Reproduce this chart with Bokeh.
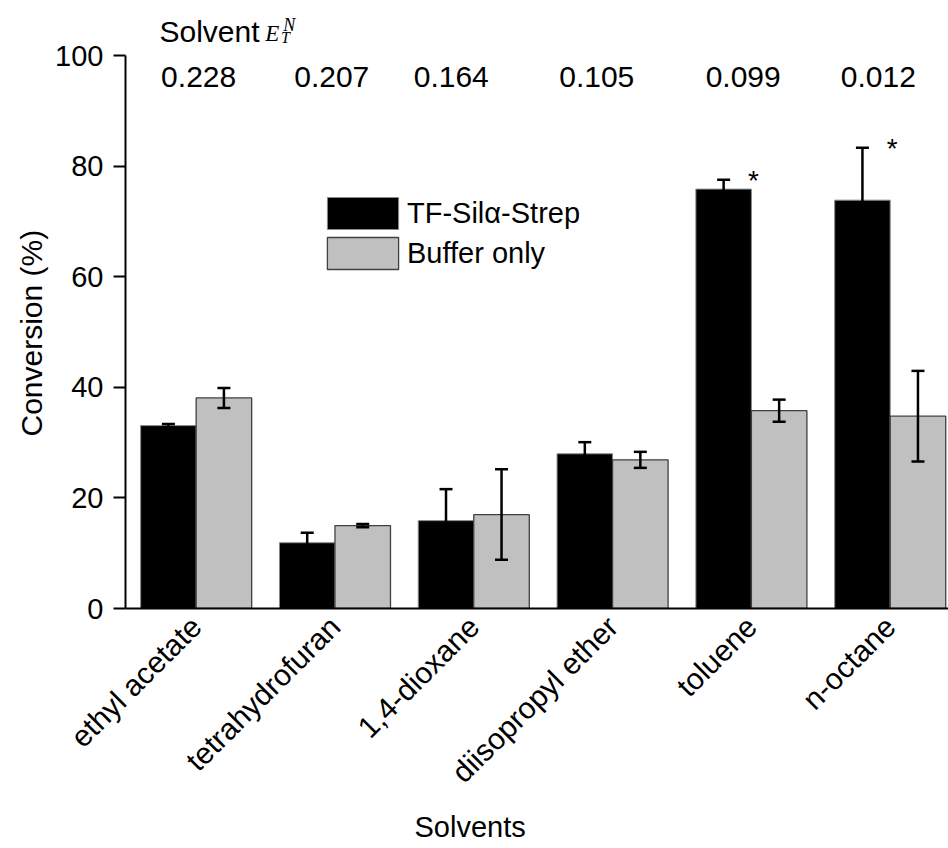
import numpy as np
from bokeh.plotting import figure
from bokeh.models import (ColumnDataSource, Range1d, Whisker, TeeHead, LabelSet,
                          FixedTicker, Title)
from bokeh.core.properties import value
from bokeh.embed import file_html
from bokeh.resources import INLINE

# ---------------- data ----------------
solvents = ["ethyl acetate", "tetrahydrofuran", "1,4-dioxane",
            "diisopropyl ether", "toluene", "n-octane"]
et_n = ["0.228", "0.207", "0.164", "0.105", "0.099", "0.012"]
tf_conv = [33.1, 11.9, 15.9, 28.0, 75.9, 73.9]
tf_err = [0.3, 1.8, 5.7, 2.1, 1.7, 9.5]
buf_conv = [38.1, 15.0, 17.0, 26.9, 35.8, 34.8]
buf_err = [1.8, 0.3, 8.2, 1.45, 2.0, 8.2]
significant = [False, False, False, False, True, True]
y_ticks = [0, 20, 40, 60, 80, 100]

FONT = "Liberation Sans"
SERIF = "Liberation Serif"

idx = np.arange(len(solvents), dtype=float)

p = figure(width=948, height=848,
           x_range=Range1d(-0.509, 5.42), y_range=Range1d(0, 110.03),
           output_backend="svg", toolbar_location=None,
           min_border_left=125, min_border_right=0,
           min_border_top=0, min_border_bottom=239)
p.outline_line_color = None
p.xgrid.visible = False
p.ygrid.visible = False
p.background_fill_color = "white"

# bars
p.vbar(x=idx - 0.2, top=tf_conv, width=0.4, fill_color="black",
       line_color="#8a8a8a", line_width=1, legend_label="TF-Silα-Strep")
p.vbar(x=idx + 0.2, top=buf_conv, width=0.4, fill_color="#c0c0c0",
       line_color="#404040", line_width=1.3, legend_label="Buffer only")

# error bars
tf = np.array(tf_conv); tfe = np.array(tf_err)
bf = np.array(buf_conv); bfe = np.array(buf_err)
err_src = ColumnDataSource(dict(
    base=np.concatenate([idx - 0.2, idx + 0.2]),
    upper=np.concatenate([tf + tfe, bf + bfe]),
    lower=np.concatenate([tf - tfe, bf - bfe]),
))
wh = Whisker(base="base", upper="upper", lower="lower", source=err_src,
             line_width=2.5, line_color="black", level="overlay",
             upper_head=TeeHead(size=13, line_width=2.5, line_color="black"),
             lower_head=TeeHead(size=13, line_width=2.5, line_color="black"))
p.add_layout(wh)

# significance stars
sig = np.array(significant)
star_src = ColumnDataSource(dict(x=idx[sig], y=(tf + tfe)[sig],
                                 text=["*"] * int(sig.sum())))
p.text(x="x", y="y", text="text", source=star_src,
       text_font=value(FONT), text_font_size="28px", text_align="center",
       text_baseline="middle", x_offset=2, y_offset=1, text_color="black")

# y axis
p.yaxis.ticker = FixedTicker(ticks=y_ticks)
p.yaxis.bounds = (0, 100)
p.yaxis.axis_line_width = 2
p.yaxis.major_tick_line_width = 2
p.yaxis.major_tick_out = 12
p.yaxis.major_tick_in = 0
p.yaxis.minor_tick_line_color = None
p.yaxis.major_label_standoff = 10
p.yaxis.major_label_text_font = FONT
p.yaxis.major_label_text_font_size = "29px"
p.yaxis.major_label_text_color = "black"

p.add_layout(Title(text="Conversion (%)", align="left", offset=172,
                   standoff=9, text_font=FONT, text_font_size="30px",
                   text_font_style="normal", text_color="black"), "left")

# x axis with rotated category labels
p.xaxis.ticker = FixedTicker(ticks=list(idx))
p.xaxis.major_label_overrides = {float(i): s for i, s in zip(idx, solvents)}
p.xaxis.major_label_orientation = np.pi / 4
p.xaxis.axis_line_width = 2
p.xaxis.major_tick_line_color = None
p.xaxis.major_tick_out = 0
p.xaxis.major_tick_in = 0
p.xaxis.minor_tick_line_color = None
p.xaxis.major_label_standoff = 13
p.xaxis.major_label_text_font = FONT
p.xaxis.major_label_text_font_size = "30px"
p.xaxis.major_label_text_color = "black"

p.add_layout(Title(text="Solvents", align="left", offset=289, standoff=11,
                   text_font=FONT, text_font_size="29px",
                   text_font_style="normal", text_color="black"), "below")

# header: Solvent E_T^N
hdr_src = ColumnDataSource(dict(
    x=[-0.264, 0.498, 0.627, 0.612],
    y=[102.55, 102.7, 104.57, 102.3],
    text=["Solvent", "E", "N", "T"],
    font=[FONT, SERIF, SERIF, SERIF],
    style=["normal", "italic", "italic", "italic"],
    size=["30px", "23px", "18px", "16px"],
))
p.add_layout(LabelSet(x="x", y="y", text="text", source=hdr_src,
                      text_align="left", text_baseline="alphabetic",
                      text_font="font", text_font_style="style",
                      text_font_size="size", text_color="black"))

# E_T^N values
et_src = ColumnDataSource(dict(x=idx, y=[94.3] * len(idx), text=et_n,
                               dx=[2.5, -3.2, -22.5, -15.8, -8.2, -11.9]))
p.add_layout(LabelSet(x="x", y="y", text="text", source=et_src,
                      x_offset="dx", text_align="center",
                      text_baseline="alphabetic", text_font=value(FONT),
                      text_font_size="30px", text_color="black"))

# legend
lg = p.legend[0]
lg.location = (193, 335)
lg.glyph_width = 89
lg.glyph_height = 40
lg.spacing = 0
lg.padding = 0
lg.margin = 0
lg.label_standoff = 0
lg.border_line_color = None
lg.background_fill_alpha = 0
lg.label_text_font = FONT
lg.label_text_font_size = "29px"
lg.label_text_color = "black"

open("out.html", "w").write(file_html(p, INLINE))
